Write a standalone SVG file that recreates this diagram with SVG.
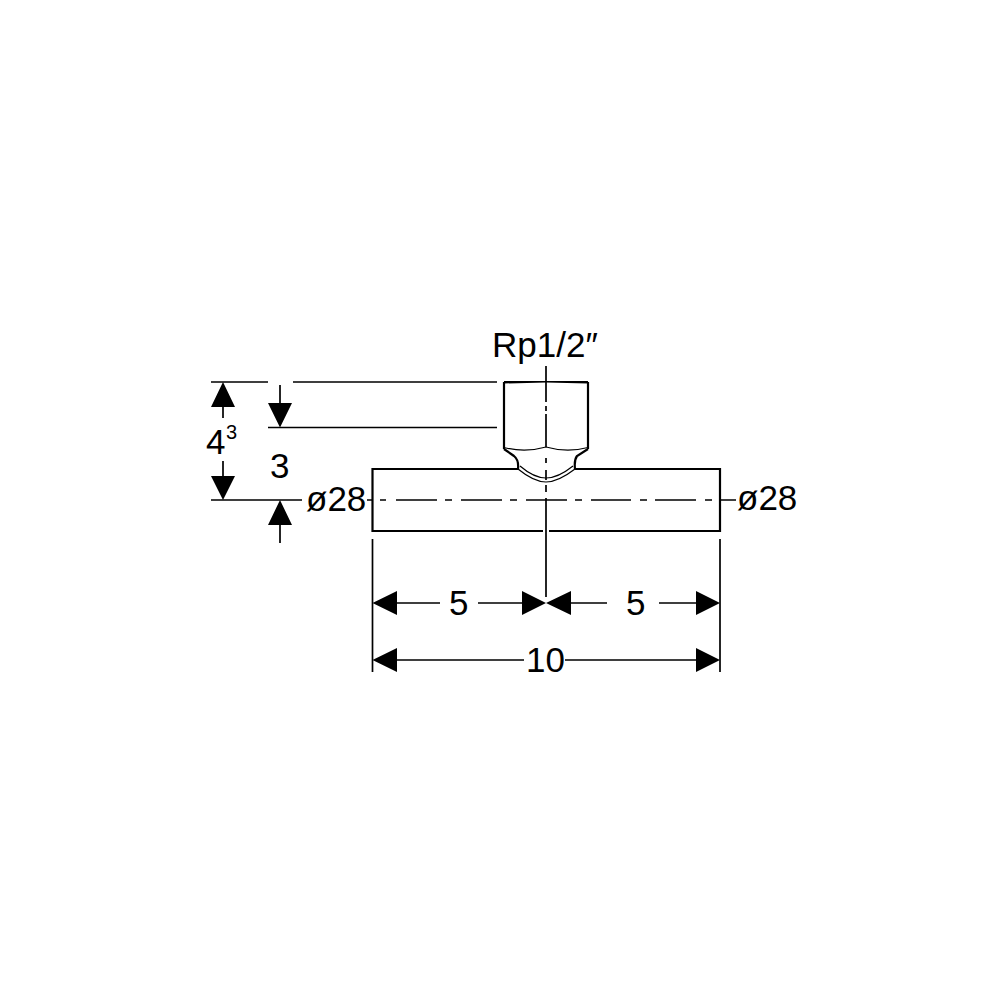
<svg xmlns="http://www.w3.org/2000/svg" width="1000" height="1000" viewBox="0 0 1000 1000">
<style>
text{font-family:"Liberation Sans",Arial,sans-serif;font-size:35px;fill:#000}
.t{fill:none;stroke:#000;stroke-width:1.7}
.k{fill:none;stroke:#000;stroke-width:2.2}
.f{fill:none;stroke:#000;stroke-width:1.2}
.a{fill:#000;stroke:none}
</style>
<g id="connectors">
<path class="t" d="M211 382H268M293 382H497M268 427.500H497M211 500H302M223 407V418M223 461V476M280 385V403M280 525V543"/>
<path class="t" d="M372.500 539V672M720 539V672M546 366V402M546 406V411M546 414V447M546 458V463M546 470V480M546 485V492M546 498V597M397 603H440M478 603H522M571 603H607M659 603H696M397 660H524M565 660H696"/>
<path class="t" d="M367 500H372M380 500H386M396 500H437M445 500H452M461 500H502M510 500H517M526 500H567M575 500H582M591 500H631M640 500H647M655 500H696M705 500H712M721 500H736"/>
<path class="a" d="M223 382L235 407H211ZM223 500L211 476H235ZM280 427.500L268 403H292ZM280 500L292 525H268ZM372.500 603L397 591V615ZM546 603L522 591V615ZM546 603L571 591V615ZM720 603L696 591V615ZM372.500 660L397 648V672ZM720 660L696 648V672Z"/>
</g>
<g id="pipe"><path class="k" d="M518 469H372.500V531H543M549 531H720V469H575"/></g>
<g id="branch">
<path class="k" d="M504 449V382M588 382V449"/>
<path d="M504 381H588V383.500L546 382.500L504 383.500Z" class="a"/>
<path class="k" d="M504 449L514 456Q519 460 518 469M588 449L577 456Q574 460 575 469"/>
<path class="f" d="M504 447.500Q525 453 546 447Q567 453 588 447.500M518 469Q534 482 546 482Q558 482 575 469M520 466Q534 478 546 478Q558 478 573 466"/>
</g>
<g id="labels">
<text x="492" y="357">Rp1/2″</text>
<text x="206" y="454">4</text>
<text x="226" y="439" style="font-size:20px">3</text>
<text x="270" y="478">3</text>
<text x="306" y="511">ø28</text>
<text x="737" y="510">ø28</text>
<text x="449" y="615">5</text>
<text x="626" y="615">5</text>
<text x="526" y="672">10</text>
</g>
</svg>
